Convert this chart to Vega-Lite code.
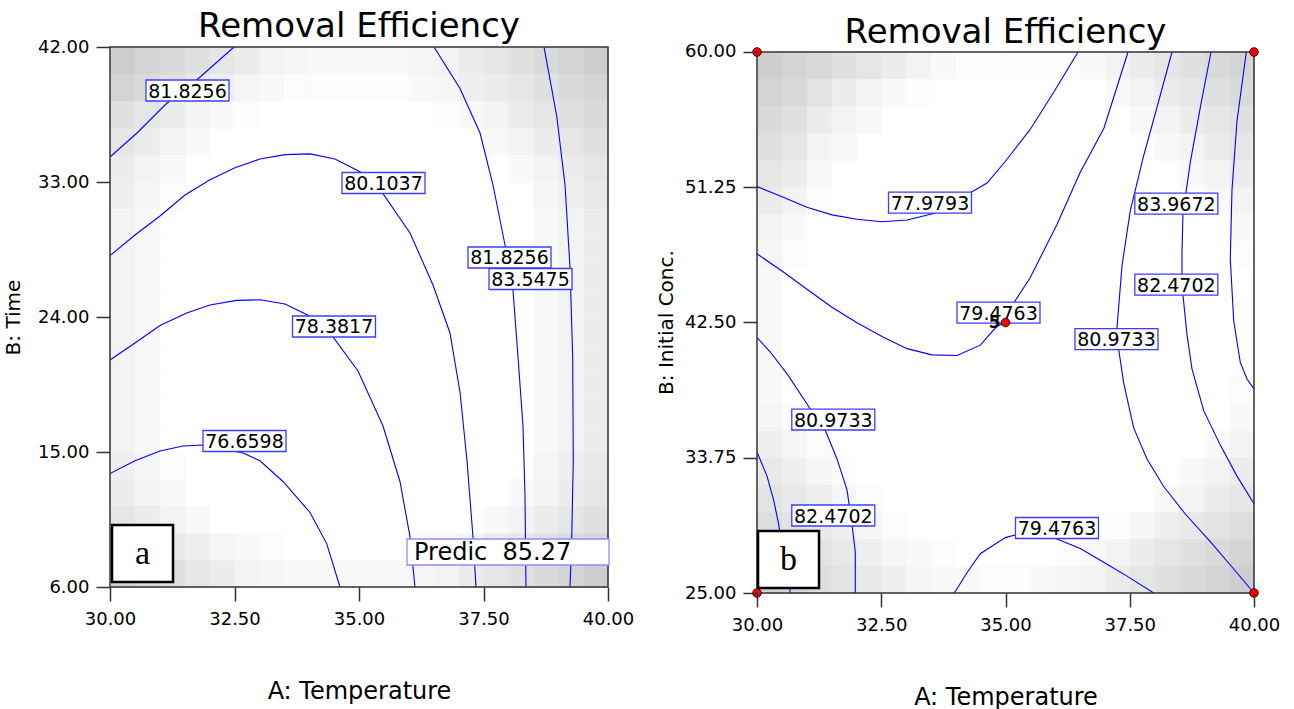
{
  "$schema": "https://vega.github.io/schema/vega-lite/v6.json",
  "background": "white",
  "padding": {"left": 3, "top": 10, "right": 0, "bottom": 0},
  "spacing": 22,
  "config": {
    "view": {"stroke": null},
    "font": "DejaVu Sans",
    "axis": {"labelFont": "DejaVu Sans", "labelFontSize": 18, "labelColor": "#000", "tickColor": "#333", "tickSize": 14, "tickWidth": 1.5, "domain": false, "grid": false, "titleFont": "DejaVu Sans", "titleFontWeight": "normal", "titleColor": "#000", "labelFlush": false, "labelOverlap": false},
    "title": {"font": "DejaVu Sans", "fontSize": 34, "fontWeight": "normal", "color": "#000"}
  },
  "datasets": {
    "heatA": [
      {"A":30.25,"B":41.1,"s":8},{"A":30.75,"B":41.1,"s":7},{"A":31.25,"B":41.1,"s":6},{"A":31.75,"B":41.1,"s":5},{"A":32.25,"B":41.1,"s":4},{"A":32.75,"B":41.1,"s":3},{"A":33.25,"B":41.1,"s":2},{"A":33.75,"B":41.1,"s":1.5},{"A":34.25,"B":41.1,"s":1},{"A":34.75,"B":41.1,"s":1},{"A":35.25,"B":41.1,"s":1},{"A":35.75,"B":41.1,"s":1},{"A":36.25,"B":41.1,"s":1.5},{"A":36.75,"B":41.1,"s":2},{"A":37.25,"B":41.1,"s":3},{"A":37.75,"B":41.1,"s":4},{"A":38.25,"B":41.1,"s":5},{"A":38.75,"B":41.1,"s":6},{"A":39.25,"B":41.1,"s":7},{"A":39.75,"B":41.1,"s":8},
      {"A":30.25,"B":39.3,"s":7},{"A":30.75,"B":39.3,"s":6},{"A":31.25,"B":39.3,"s":5},{"A":31.75,"B":39.3,"s":3.5},{"A":32.25,"B":39.3,"s":2.5},{"A":32.75,"B":39.3,"s":1.5},{"A":33.25,"B":39.3,"s":1},{"A":33.75,"B":39.3,"s":0.5},{"A":34.25,"B":39.3,"s":0.5},{"A":34.75,"B":39.3,"s":0.5},{"A":35.25,"B":39.3,"s":0.5},{"A":35.75,"B":39.3,"s":0.5},{"A":36.25,"B":39.3,"s":1},{"A":36.75,"B":39.3,"s":1.5},{"A":37.25,"B":39.3,"s":2.5},{"A":37.75,"B":39.3,"s":3},{"A":38.25,"B":39.3,"s":4},{"A":38.75,"B":39.3,"s":5},{"A":39.25,"B":39.3,"s":6},{"A":39.75,"B":39.3,"s":7},
      {"A":30.25,"B":37.5,"s":5},{"A":30.75,"B":37.5,"s":4},{"A":31.25,"B":37.5,"s":3},{"A":31.75,"B":37.5,"s":2},{"A":32.25,"B":37.5,"s":1},{"A":32.75,"B":37.5,"s":0.5},{"A":36.75,"B":37.5,"s":0.5},{"A":37.25,"B":37.5,"s":1},{"A":37.75,"B":37.5,"s":2},{"A":38.25,"B":37.5,"s":3},{"A":38.75,"B":37.5,"s":4},{"A":39.25,"B":37.5,"s":5},{"A":39.75,"B":37.5,"s":6},
      {"A":30.25,"B":35.7,"s":4},{"A":30.75,"B":35.7,"s":3},{"A":31.25,"B":35.7,"s":2},{"A":31.75,"B":35.7,"s":1},{"A":37.75,"B":35.7,"s":1},{"A":38.25,"B":35.7,"s":2},{"A":38.75,"B":35.7,"s":3},{"A":39.25,"B":35.7,"s":4},{"A":39.75,"B":35.7,"s":5},
      {"A":30.25,"B":33.9,"s":3},{"A":30.75,"B":33.9,"s":2},{"A":31.25,"B":33.9,"s":1},{"A":38.25,"B":33.9,"s":1},{"A":38.75,"B":33.9,"s":2},{"A":39.25,"B":33.9,"s":3},{"A":39.75,"B":33.9,"s":4},
      {"A":30.25,"B":32.1,"s":2.5},{"A":30.75,"B":32.1,"s":1.5},{"A":31.25,"B":32.1,"s":0.5},{"A":38.75,"B":32.1,"s":1.5},{"A":39.25,"B":32.1,"s":2.5},{"A":39.75,"B":32.1,"s":3.5},
      {"A":30.25,"B":30.3,"s":2},{"A":30.75,"B":30.3,"s":1},{"A":38.75,"B":30.3,"s":1},{"A":39.25,"B":30.3,"s":2},{"A":39.75,"B":30.3,"s":3},
      {"A":30.25,"B":28.5,"s":2},{"A":30.75,"B":28.5,"s":1},{"A":38.75,"B":28.5,"s":1},{"A":39.25,"B":28.5,"s":2},{"A":39.75,"B":28.5,"s":3},
      {"A":30.25,"B":26.7,"s":2},{"A":30.75,"B":26.7,"s":1},{"A":38.75,"B":26.7,"s":1},{"A":39.25,"B":26.7,"s":2},{"A":39.75,"B":26.7,"s":3},
      {"A":30.25,"B":24.9,"s":2},{"A":30.75,"B":24.9,"s":1},{"A":38.75,"B":24.9,"s":1},{"A":39.25,"B":24.9,"s":2},{"A":39.75,"B":24.9,"s":3},
      {"A":30.25,"B":23.1,"s":2},{"A":30.75,"B":23.1,"s":1},{"A":38.75,"B":23.1,"s":1},{"A":39.25,"B":23.1,"s":2},{"A":39.75,"B":23.1,"s":3},
      {"A":30.25,"B":21.3,"s":2},{"A":30.75,"B":21.3,"s":1},{"A":38.75,"B":21.3,"s":1},{"A":39.25,"B":21.3,"s":2},{"A":39.75,"B":21.3,"s":3},
      {"A":30.25,"B":19.5,"s":2},{"A":30.75,"B":19.5,"s":1},{"A":38.75,"B":19.5,"s":1},{"A":39.25,"B":19.5,"s":2},{"A":39.75,"B":19.5,"s":3},
      {"A":30.25,"B":17.7,"s":2},{"A":30.75,"B":17.7,"s":1},{"A":38.75,"B":17.7,"s":1},{"A":39.25,"B":17.7,"s":2},{"A":39.75,"B":17.7,"s":3},
      {"A":30.25,"B":15.9,"s":2},{"A":30.75,"B":15.9,"s":1},{"A":38.75,"B":15.9,"s":1},{"A":39.25,"B":15.9,"s":2},{"A":39.75,"B":15.9,"s":3},
      {"A":30.25,"B":14.1,"s":2.5},{"A":30.75,"B":14.1,"s":1.5},{"A":31.25,"B":14.1,"s":0.5},{"A":38.75,"B":14.1,"s":1.5},{"A":39.25,"B":14.1,"s":2.5},{"A":39.75,"B":14.1,"s":3.5},
      {"A":30.25,"B":12.3,"s":3},{"A":30.75,"B":12.3,"s":2},{"A":31.25,"B":12.3,"s":1},{"A":38.25,"B":12.3,"s":1},{"A":38.75,"B":12.3,"s":2},{"A":39.25,"B":12.3,"s":3},{"A":39.75,"B":12.3,"s":4},
      {"A":30.25,"B":10.5,"s":4},{"A":30.75,"B":10.5,"s":3},{"A":31.25,"B":10.5,"s":2},{"A":31.75,"B":10.5,"s":1},{"A":37.75,"B":10.5,"s":1},{"A":38.25,"B":10.5,"s":2},{"A":38.75,"B":10.5,"s":3},{"A":39.25,"B":10.5,"s":4},{"A":39.75,"B":10.5,"s":5},
      {"A":30.25,"B":8.7,"s":5.5},{"A":30.75,"B":8.7,"s":4.5},{"A":31.25,"B":8.7,"s":3.5},{"A":31.75,"B":8.7,"s":2.5},{"A":32.25,"B":8.7,"s":1.5},{"A":32.75,"B":8.7,"s":1},{"A":33.25,"B":8.7,"s":0.5},{"A":36.25,"B":8.7,"s":0.5},{"A":36.75,"B":8.7,"s":1},{"A":37.25,"B":8.7,"s":2},{"A":37.75,"B":8.7,"s":3},{"A":38.25,"B":8.7,"s":4},{"A":38.75,"B":8.7,"s":5},{"A":39.25,"B":8.7,"s":6},{"A":39.75,"B":8.7,"s":6.5},
      {"A":30.25,"B":6.9,"s":7},{"A":30.75,"B":6.9,"s":6},{"A":31.25,"B":6.9,"s":5},{"A":31.75,"B":6.9,"s":4},{"A":32.25,"B":6.9,"s":3},{"A":32.75,"B":6.9,"s":2},{"A":33.25,"B":6.9,"s":1.5},{"A":33.75,"B":6.9,"s":1},{"A":34.25,"B":6.9,"s":1},{"A":34.75,"B":6.9,"s":1},{"A":35.25,"B":6.9,"s":1},{"A":35.75,"B":6.9,"s":1},{"A":36.25,"B":6.9,"s":1.5},{"A":36.75,"B":6.9,"s":2},{"A":37.25,"B":6.9,"s":3},{"A":37.75,"B":6.9,"s":4},{"A":38.25,"B":6.9,"s":5},{"A":38.75,"B":6.9,"s":6},{"A":39.25,"B":6.9,"s":7},{"A":39.75,"B":6.9,"s":8}
    ],
    "heatB": [
      {"A":30.25,"B":59.125,"s":8},{"A":30.75,"B":59.125,"s":7},{"A":31.25,"B":59.125,"s":6},{"A":31.75,"B":59.125,"s":5},{"A":32.25,"B":59.125,"s":4},{"A":32.75,"B":59.125,"s":3},{"A":33.25,"B":59.125,"s":2},{"A":33.75,"B":59.125,"s":1},{"A":34.25,"B":59.125,"s":0.5},{"A":34.75,"B":59.125,"s":0.5},{"A":35.25,"B":59.125,"s":0.5},{"A":35.75,"B":59.125,"s":0.5},{"A":36.25,"B":59.125,"s":0.5},{"A":36.75,"B":59.125,"s":1},{"A":37.25,"B":59.125,"s":2},{"A":37.75,"B":59.125,"s":3},{"A":38.25,"B":59.125,"s":4},{"A":38.75,"B":59.125,"s":5},{"A":39.25,"B":59.125,"s":6},{"A":39.75,"B":59.125,"s":7},
      {"A":30.25,"B":57.375,"s":7},{"A":30.75,"B":57.375,"s":6},{"A":31.25,"B":57.375,"s":4.5},{"A":31.75,"B":57.375,"s":3},{"A":32.25,"B":57.375,"s":2},{"A":32.75,"B":57.375,"s":1},{"A":33.25,"B":57.375,"s":0.5},{"A":37.25,"B":57.375,"s":1},{"A":37.75,"B":57.375,"s":2},{"A":38.25,"B":57.375,"s":3},{"A":38.75,"B":57.375,"s":4},{"A":39.25,"B":57.375,"s":5},{"A":39.75,"B":57.375,"s":6},
      {"A":30.25,"B":55.625,"s":6},{"A":30.75,"B":55.625,"s":5},{"A":31.25,"B":55.625,"s":3},{"A":31.75,"B":55.625,"s":2},{"A":32.25,"B":55.625,"s":1},{"A":37.75,"B":55.625,"s":1},{"A":38.25,"B":55.625,"s":2},{"A":38.75,"B":55.625,"s":3},{"A":39.25,"B":55.625,"s":4},{"A":39.75,"B":55.625,"s":5},
      {"A":30.25,"B":53.875,"s":5},{"A":30.75,"B":53.875,"s":4},{"A":31.25,"B":53.875,"s":2},{"A":31.75,"B":53.875,"s":1},{"A":38.25,"B":53.875,"s":1},{"A":38.75,"B":53.875,"s":2},{"A":39.25,"B":53.875,"s":3},{"A":39.75,"B":53.875,"s":4},
      {"A":30.25,"B":52.125,"s":4},{"A":30.75,"B":52.125,"s":3},{"A":31.25,"B":52.125,"s":1},{"A":38.75,"B":52.125,"s":1},{"A":39.25,"B":52.125,"s":2},{"A":39.75,"B":52.125,"s":3},
      {"A":30.25,"B":50.375,"s":3},{"A":30.75,"B":50.375,"s":2},{"A":31.25,"B":50.375,"s":0.5},{"A":39.25,"B":50.375,"s":1},{"A":39.75,"B":50.375,"s":2},
      {"A":30.25,"B":48.625,"s":2},{"A":30.75,"B":48.625,"s":1},{"A":39.75,"B":48.625,"s":1},
      {"A":30.25,"B":46.875,"s":1.5},{"A":30.75,"B":46.875,"s":0.5},{"A":39.75,"B":46.875,"s":0.5},
      {"A":30.25,"B":45.125,"s":1},{"A":30.25,"B":43.375,"s":1},{"A":30.25,"B":41.625,"s":1},{"A":30.25,"B":39.875,"s":1},
      {"A":30.25,"B":38.125,"s":1},{"A":39.75,"B":38.125,"s":0.5},
      {"A":30.25,"B":36.375,"s":1.5},{"A":30.75,"B":36.375,"s":0.5},{"A":39.75,"B":36.375,"s":1},
      {"A":30.25,"B":34.625,"s":2.5},{"A":30.75,"B":34.625,"s":1.5},{"A":31.25,"B":34.625,"s":0.5},{"A":39.25,"B":34.625,"s":1},{"A":39.75,"B":34.625,"s":2},
      {"A":30.25,"B":32.875,"s":3.5},{"A":30.75,"B":32.875,"s":2.5},{"A":31.25,"B":32.875,"s":1.5},{"A":31.75,"B":32.875,"s":0.5},{"A":38.75,"B":32.875,"s":1},{"A":39.25,"B":32.875,"s":2},{"A":39.75,"B":32.875,"s":3},
      {"A":30.25,"B":31.125,"s":4.5},{"A":30.75,"B":31.125,"s":3.5},{"A":31.25,"B":31.125,"s":2.5},{"A":31.75,"B":31.125,"s":1.5},{"A":32.25,"B":31.125,"s":0.5},{"A":38.25,"B":31.125,"s":1},{"A":38.75,"B":31.125,"s":2},{"A":39.25,"B":31.125,"s":3},{"A":39.75,"B":31.125,"s":4},
      {"A":30.25,"B":29.375,"s":5.5},{"A":30.75,"B":29.375,"s":4.5},{"A":31.25,"B":29.375,"s":3.5},{"A":31.75,"B":29.375,"s":2.5},{"A":32.25,"B":29.375,"s":1.5},{"A":32.75,"B":29.375,"s":0.5},{"A":37.25,"B":29.375,"s":0.5},{"A":37.75,"B":29.375,"s":1.5},{"A":38.25,"B":29.375,"s":2.5},{"A":38.75,"B":29.375,"s":3.5},{"A":39.25,"B":29.375,"s":4.5},{"A":39.75,"B":29.375,"s":5.5},
      {"A":30.25,"B":27.625,"s":6.5},{"A":30.75,"B":27.625,"s":5.5},{"A":31.25,"B":27.625,"s":4.5},{"A":31.75,"B":27.625,"s":3.5},{"A":32.25,"B":27.625,"s":2.5},{"A":32.75,"B":27.625,"s":1.5},{"A":33.25,"B":27.625,"s":1},{"A":33.75,"B":27.625,"s":0.5},{"A":36.25,"B":27.625,"s":0.5},{"A":36.75,"B":27.625,"s":1},{"A":37.25,"B":27.625,"s":2},{"A":37.75,"B":27.625,"s":3},{"A":38.25,"B":27.625,"s":4},{"A":38.75,"B":27.625,"s":5},{"A":39.25,"B":27.625,"s":6},{"A":39.75,"B":27.625,"s":7},
      {"A":30.25,"B":25.875,"s":7.5},{"A":30.75,"B":25.875,"s":6.5},{"A":31.25,"B":25.875,"s":5.5},{"A":31.75,"B":25.875,"s":4.5},{"A":32.25,"B":25.875,"s":3.5},{"A":32.75,"B":25.875,"s":2.5},{"A":33.25,"B":25.875,"s":1.5},{"A":33.75,"B":25.875,"s":1},{"A":34.25,"B":25.875,"s":1},{"A":34.75,"B":25.875,"s":0.5},{"A":35.25,"B":25.875,"s":0.5},{"A":35.75,"B":25.875,"s":1},{"A":36.25,"B":25.875,"s":1.5},{"A":36.75,"B":25.875,"s":2},{"A":37.25,"B":25.875,"s":3},{"A":37.75,"B":25.875,"s":4},{"A":38.25,"B":25.875,"s":5},{"A":38.75,"B":25.875,"s":6},{"A":39.25,"B":25.875,"s":7},{"A":39.75,"B":25.875,"s":8}
    ],
    "linesA": [
      {"id":1,"k":1,"A":30,"B":34.667},{"id":1,"k":2,"A":30.542,"B":36.267},{"id":1,"k":3,"A":31.124,"B":38.2},{"id":1,"k":4,"A":31.787,"B":39.933},{"id":1,"k":5,"A":32.49,"B":42},
      {"id":2,"k":1,"A":30,"B":28.093},{"id":2,"k":2,"A":30.502,"B":29.467},{"id":2,"k":3,"A":31.004,"B":30.733},{"id":2,"k":4,"A":31.506,"B":32.133},{"id":2,"k":5,"A":32.008,"B":33.147},{"id":2,"k":6,"A":32.51,"B":33.953},{"id":2,"k":7,"A":33.012,"B":34.533},{"id":2,"k":8,"A":33.514,"B":34.827},{"id":2,"k":9,"A":34.016,"B":34.873},{"id":2,"k":10,"A":34.518,"B":34.533},{"id":2,"k":11,"A":35.02,"B":33.68},{"id":2,"k":12,"A":35.482,"B":32.227},{"id":2,"k":13,"A":36.024,"B":29.6},{"id":2,"k":14,"A":36.486,"B":26.133},{"id":2,"k":15,"A":36.827,"B":22.933},{"id":2,"k":16,"A":37.028,"B":19.0},{"id":2,"k":17,"A":37.169,"B":14.4},{"id":2,"k":18,"A":37.289,"B":9.333},{"id":2,"k":19,"A":37.349,"B":6},
      {"id":3,"k":1,"A":30,"B":21.133},{"id":3,"k":2,"A":30.502,"B":22.267},{"id":3,"k":3,"A":31.004,"B":23.427},{"id":3,"k":4,"A":31.54,"B":24.267},{"id":3,"k":5,"A":32.008,"B":24.8},{"id":3,"k":6,"A":32.544,"B":25.107},{"id":3,"k":7,"A":33.012,"B":25.147},{"id":3,"k":8,"A":33.514,"B":24.873},{"id":3,"k":9,"A":33.976,"B":24.113},{"id":3,"k":10,"A":34.478,"B":22.667},{"id":3,"k":11,"A":34.98,"B":20.4},{"id":3,"k":12,"A":35.482,"B":16.733},{"id":3,"k":13,"A":35.823,"B":13.033},{"id":3,"k":14,"A":36.024,"B":9.36},{"id":3,"k":15,"A":36.124,"B":6},
      {"id":4,"k":1,"A":30,"B":13.56},{"id":4,"k":2,"A":30.502,"B":14.413},{"id":4,"k":3,"A":31.004,"B":15.067},{"id":4,"k":4,"A":31.466,"B":15.4},{"id":4,"k":5,"A":31.867,"B":15.467},{"id":4,"k":6,"A":32.671,"B":14.933},{"id":4,"k":7,"A":33.012,"B":14.413},{"id":4,"k":8,"A":33.474,"B":13.033},{"id":4,"k":9,"A":34.016,"B":10.967},{"id":4,"k":10,"A":34.351,"B":8.893},{"id":4,"k":11,"A":34.618,"B":6},
      {"id":5,"k":1,"A":36.506,"B":42},{"id":5,"k":2,"A":37.028,"B":39.24},{"id":5,"k":3,"A":37.43,"B":36.267},{"id":5,"k":4,"A":37.691,"B":32.8},{"id":5,"k":5,"A":37.932,"B":28.8},{"id":5,"k":6,"A":38.092,"B":25.8},{"id":5,"k":7,"A":38.193,"B":21.333},{"id":5,"k":8,"A":38.293,"B":16.733},{"id":5,"k":9,"A":38.333,"B":12.133},{"id":5,"k":10,"A":38.353,"B":6},
      {"id":6,"k":1,"A":38.715,"B":42},{"id":6,"k":2,"A":38.97,"B":37.4},{"id":6,"k":3,"A":39.137,"B":32.8},{"id":6,"k":4,"A":39.237,"B":27.287},{"id":6,"k":5,"A":39.291,"B":21.333},{"id":6,"k":6,"A":39.303,"B":14.413},{"id":6,"k":7,"A":39.271,"B":9.133},{"id":6,"k":8,"A":39.237,"B":6}
    ],
    "linesB": [
      {"id":1,"k":1,"A":30,"B":51.294},{"id":1,"k":2,"A":30.503,"B":50.628},{"id":1,"k":3,"A":31.006,"B":49.955},{"id":1,"k":4,"A":31.509,"B":49.463},{"id":1,"k":5,"A":32.012,"B":49.178},{"id":1,"k":6,"A":32.515,"B":49.017},{"id":1,"k":7,"A":33.018,"B":49.133},{"id":1,"k":8,"A":33.555,"B":49.554},{"id":1,"k":9,"A":34.326,"B":50.958},{"id":1,"k":10,"A":34.628,"B":51.52},{"id":1,"k":11,"A":34.99,"B":52.898},{"id":1,"k":12,"A":35.493,"B":54.975},{"id":1,"k":13,"A":35.976,"B":57.426},{"id":1,"k":14,"A":36.459,"B":60},
      {"id":2,"k":1,"A":30,"B":46.947},{"id":2,"k":2,"A":30.503,"B":45.828},{"id":2,"k":3,"A":31.006,"B":44.651},{"id":2,"k":4,"A":31.509,"B":43.486},{"id":2,"k":5,"A":32.012,"B":42.484},{"id":2,"k":6,"A":32.515,"B":41.591},{"id":2,"k":7,"A":33.018,"B":40.809},{"id":2,"k":8,"A":33.521,"B":40.408},{"id":2,"k":9,"A":34.024,"B":40.369},{"id":2,"k":10,"A":34.493,"B":41.035},{"id":2,"k":11,"A":34.829,"B":42.27},{"id":2,"k":12,"A":34.976,"B":42.439},{"id":2,"k":13,"A":35.191,"B":43.888},{"id":2,"k":14,"A":35.493,"B":45.382},{"id":2,"k":15,"A":36.036,"B":48.842},{"id":2,"k":16,"A":36.499,"B":52.186},{"id":2,"k":17,"A":36.982,"B":55.084},{"id":2,"k":18,"A":37.465,"B":60},
      {"id":3,"k":1,"A":38.35,"B":60},{"id":3,"k":2,"A":38.048,"B":56.423},{"id":3,"k":3,"A":37.781,"B":53.305},{"id":3,"k":4,"A":37.511,"B":49.735},{"id":3,"k":5,"A":37.344,"B":46.164},{"id":3,"k":6,"A":37.243,"B":42.148},{"id":3,"k":7,"A":37.277,"B":40.77},{"id":3,"k":8,"A":37.378,"B":38.584},{"id":3,"k":9,"A":37.579,"B":35.679},{"id":3,"k":10,"A":37.847,"B":33.668},{"id":3,"k":11,"A":38.183,"B":31.889},{"id":3,"k":12,"A":38.618,"B":30.11},{"id":3,"k":13,"A":39.121,"B":28.318},{"id":3,"k":14,"A":39.592,"B":26.552},{"id":3,"k":15,"A":40,"B":25},
      {"id":4,"k":1,"A":39.135,"B":60},{"id":4,"k":2,"A":38.92,"B":56.423},{"id":4,"k":3,"A":38.718,"B":52.859},{"id":4,"k":4,"A":38.618,"B":50.627},{"id":4,"k":5,"A":38.571,"B":49.515},{"id":4,"k":6,"A":38.551,"B":47.057},{"id":4,"k":7,"A":38.551,"B":45.608},{"id":4,"k":8,"A":38.571,"B":44.276},{"id":4,"k":9,"A":38.652,"B":41.701},{"id":4,"k":10,"A":38.753,"B":39.476},{"id":4,"k":11,"A":38.988,"B":36.798},{"id":4,"k":12,"A":39.322,"B":34.567},{"id":4,"k":13,"A":39.658,"B":32.561},{"id":4,"k":14,"A":40,"B":30.776},
      {"id":5,"k":1,"A":39.845,"B":60},{"id":5,"k":2,"A":39.658,"B":55.531},{"id":5,"k":3,"A":39.557,"B":51.074},{"id":5,"k":4,"A":39.523,"B":46.611},{"id":5,"k":5,"A":39.592,"B":42.594},{"id":5,"k":6,"A":39.724,"B":39.922},{"id":5,"k":7,"A":39.859,"B":38.842},{"id":5,"k":8,"A":40,"B":38.195},
      {"id":6,"k":1,"A":30,"B":41.527},{"id":6,"k":2,"A":30.268,"B":40.589},{"id":6,"k":3,"A":30.638,"B":39.03},{"id":6,"k":4,"A":31.072,"B":36.908},{"id":6,"k":5,"A":31.374,"B":35.524},{"id":6,"k":6,"A":31.61,"B":33.674},{"id":6,"k":7,"A":31.811,"B":31.669},{"id":6,"k":8,"A":31.911,"B":29.437},{"id":6,"k":9,"A":31.978,"B":27.652},{"id":6,"k":10,"A":31.978,"B":25},
      {"id":7,"k":1,"A":30,"B":34.121},{"id":7,"k":2,"A":30.201,"B":32.562},{"id":7,"k":3,"A":30.336,"B":30.996},{"id":7,"k":4,"A":30.437,"B":29.437},{"id":7,"k":5,"A":30.483,"B":28.318},{"id":7,"k":6,"A":30.584,"B":26.746},{"id":7,"k":7,"A":30.67,"B":25},
      {"id":8,"k":1,"A":33.97,"B":25},{"id":8,"k":2,"A":34.225,"B":26.313},{"id":8,"k":3,"A":34.493,"B":27.542},{"id":8,"k":4,"A":34.996,"B":28.583},{"id":8,"k":5,"A":35.493,"B":29.01},{"id":8,"k":6,"A":36.036,"B":28.499},{"id":8,"k":7,"A":36.505,"B":27.872},{"id":8,"k":8,"A":36.976,"B":26.986},{"id":8,"k":9,"A":37.445,"B":26.093},{"id":8,"k":10,"A":37.982,"B":25}
    ],
    "labA": [
      {"A":31.556,"B":39.1,"t":"81.8256"},{"A":35.492,"B":32.933,"t":"80.1037"},{"A":38.022,"B":27.967,"t":"81.8256"},{"A":38.444,"B":26.533,"t":"83.5475"},{"A":34.498,"B":23.367,"t":"78.3817"},{"A":32.701,"B":15.733,"t":"76.6598"}
    ],
    "labB": [
      {"A":33.481,"B":50.259,"t":"77.9793"},{"A":34.859,"B":43.144,"t":"79.4763"},{"A":38.437,"B":50.194,"t":"83.9672"},{"A":38.437,"B":44.955,"t":"82.4702"},{"A":37.233,"B":41.43,"t":"80.9733"},{"A":31.535,"B":36.223,"t":"80.9733"},{"A":31.535,"B":30.013,"t":"82.4702"},{"A":36.036,"B":29.204,"t":"79.4763"}
    ],
    "ptsB": [
      {"A":30,"B":60},{"A":40,"B":60},{"A":30,"B":25},{"A":40,"B":25},{"A":35,"B":42.5,"t":"5"}
    ]
  },
  "hconcat": [
    {
      "width": 498,
      "height": 540,
      "title": {"text": "Removal Efficiency", "baseline": "alphabetic", "offset": -33, "frame": "group", "anchor": "middle"},
      "layer": [
        {
          "data": {"name": "heatA"},
          "mark": {"type": "rect", "strokeWidth": 0.6},
          "encoding": {
            "x": {"field": "A", "type": "quantitative", "bin": {"step": 0.5, "extent": [30, 40], "nice": false}, "scale": {"domain": [30, 40], "nice": false, "zero": false},
                  "axis": {"values": [30, 32.5, 35, 37.5, 40], "format": ".2f", "labelFontSize": 18, "labelPadding": 9, "title": "A: Temperature", "titleFontSize": 24, "titleBaseline": "alphabetic", "titleY": 111}},
            "y": {"field": "B", "type": "quantitative", "bin": {"step": 1.8, "extent": [6, 42], "nice": false}, "scale": {"domain": [6, 42], "nice": false, "zero": false},
                  "axis": {"values": [6, 15, 24, 33, 42], "format": ".2f", "labelFontSize": 18, "labelPadding": 7, "title": "B: Time", "titleFontSize": 20, "titleX": -87}},
            "color": {"field": "s", "type": "quantitative", "scale": {"domain": [0, 10], "range": ["#ffffff", "#c2c2c2"]}, "legend": null},
            "stroke": {"field": "s", "type": "quantitative", "scale": {"domain": [0, 10], "range": ["#ffffff", "#c2c2c2"]}, "legend": null}
          }
        },
        {
          "data": {"name": "linesA"},
          "mark": {"type": "line", "color": "#0000ff", "strokeWidth": 1.1, "clip": true},
          "encoding": {
            "x": {"field": "A", "type": "quantitative", "scale": {"domain": [30, 40], "nice": false, "zero": false}},
            "y": {"field": "B", "type": "quantitative", "scale": {"domain": [6, 42], "nice": false, "zero": false}},
            "detail": {"field": "id"},
            "order": {"field": "k", "type": "quantitative"}
          }
        },
        {
          "data": {"values": [{}]},
          "mark": {"type": "rect", "filled": false, "stroke": "#333", "strokeWidth": 1.5},
          "encoding": {"x": {"datum": 30}, "x2": {"datum": 40}, "y": {"datum": 6}, "y2": {"datum": 42}}
        },
        {
          "data": {"name": "labA"},
          "mark": {"type": "point", "shape": "M-1,-0.253H1V0.253H-1Z", "size": 6889, "filled": true, "fill": "#ffffff", "stroke": "#3c3cff", "strokeWidth": 1.3, "opacity": 1},
          "encoding": {"x": {"field": "A", "type": "quantitative"}, "y": {"field": "B", "type": "quantitative"}}
        },
        {
          "data": {"name": "labA"},
          "mark": {"type": "text", "font": "DejaVu Sans", "fontSize": 19, "color": "#000", "align": "center", "baseline": "middle", "dy": 1},
          "encoding": {"x": {"field": "A", "type": "quantitative"}, "y": {"field": "B", "type": "quantitative"}, "text": {"field": "t"}}
        },
        {
          "data": {"values": [{"A": 37.992, "B": 8.333, "t": "Predic\u00a0\u00a085.27"}]},
          "layer": [
            {"mark": {"type": "point", "shape": "M-1,-0.1287H1V0.1287H-1Z", "size": 40804, "filled": true, "fill": "#ffffff", "stroke": "#8c8cff", "strokeWidth": 1.3, "opacity": 1},
             "encoding": {"x": {"field": "A", "type": "quantitative"}, "y": {"field": "B", "type": "quantitative"}}},
            {"mark": {"type": "text", "font": "DejaVu Sans", "fontSize": 24, "color": "#000", "align": "left", "baseline": "middle", "dx": -94, "dy": 1},
             "encoding": {"x": {"field": "A", "type": "quantitative"}, "y": {"field": "B", "type": "quantitative"}, "text": {"field": "t"}}}
          ]
        },
        {
          "data": {"values": [{"A": 30.653, "B": 8.233, "t": "a"}]},
          "layer": [
            {"mark": {"type": "point", "shape": "M-1,-0.9344H1V0.9344H-1Z", "size": 3721, "filled": true, "fill": "#ffffff", "stroke": "#000", "strokeWidth": 2.5, "opacity": 1},
             "encoding": {"x": {"field": "A", "type": "quantitative"}, "y": {"field": "B", "type": "quantitative"}}},
            {"mark": {"type": "text", "font": "Liberation Serif", "fontSize": 34, "color": "#000", "align": "center", "baseline": "middle"},
             "encoding": {"x": {"field": "A", "type": "quantitative"}, "y": {"field": "B", "type": "quantitative"}, "text": {"field": "t"}}}
          ]
        }
      ]
    },
    {
      "width": 497,
      "height": 546,
      "title": {"text": "Removal Efficiency", "baseline": "alphabetic", "offset": -34, "frame": "group", "anchor": "middle"},
      "layer": [
        {
          "data": {"name": "heatB"},
          "mark": {"type": "rect", "strokeWidth": 0.6},
          "encoding": {
            "x": {"field": "A", "type": "quantitative", "bin": {"step": 0.5, "extent": [30, 40], "nice": false}, "scale": {"domain": [30, 40], "nice": false, "zero": false},
                  "axis": {"values": [30, 32.5, 35, 37.5, 40], "format": ".2f", "labelFontSize": 18, "labelPadding": 9, "title": "A: Temperature", "titleFontSize": 24, "titleBaseline": "alphabetic", "titleY": 111}},
            "y": {"field": "B", "type": "quantitative", "bin": {"step": 1.75, "extent": [25, 60], "nice": false}, "scale": {"domain": [25, 60.3234], "nice": false, "zero": false},
                  "axis": {"values": [25, 33.75, 42.5, 51.25, 60], "format": ".2f", "labelFontSize": 18, "labelPadding": 7, "title": "B: Initial Conc.", "titleFontSize": 20, "titleX": -81, "titleY": 275}},
            "color": {"field": "s", "type": "quantitative", "scale": {"domain": [0, 10], "range": ["#ffffff", "#c2c2c2"]}, "legend": null},
            "stroke": {"field": "s", "type": "quantitative", "scale": {"domain": [0, 10], "range": ["#ffffff", "#c2c2c2"]}, "legend": null}
          }
        },
        {
          "data": {"name": "linesB"},
          "mark": {"type": "line", "color": "#0000ff", "strokeWidth": 1.1, "clip": true},
          "encoding": {
            "x": {"field": "A", "type": "quantitative", "scale": {"domain": [30, 40], "nice": false, "zero": false}},
            "y": {"field": "B", "type": "quantitative", "scale": {"domain": [25, 60.3234], "nice": false, "zero": false}},
            "detail": {"field": "id"},
            "order": {"field": "k", "type": "quantitative"}
          }
        },
        {
          "data": {"values": [{}]},
          "mark": {"type": "rect", "filled": false, "stroke": "#333", "strokeWidth": 1.5},
          "encoding": {"x": {"datum": 30}, "x2": {"datum": 40}, "y": {"datum": 25}, "y2": {"datum": 60}}
        },
        {
          "data": {"name": "labB"},
          "mark": {"type": "point", "shape": "M-1,-0.253H1V0.253H-1Z", "size": 6889, "filled": true, "fill": "#ffffff", "stroke": "#3c3cff", "strokeWidth": 1.3, "opacity": 1},
          "encoding": {"x": {"field": "A", "type": "quantitative"}, "y": {"field": "B", "type": "quantitative"}}
        },
        {
          "data": {"name": "labB"},
          "mark": {"type": "text", "font": "DejaVu Sans", "fontSize": 19, "color": "#000", "align": "center", "baseline": "middle", "dy": 1},
          "encoding": {"x": {"field": "A", "type": "quantitative"}, "y": {"field": "B", "type": "quantitative"}, "text": {"field": "t"}}
        },
        {
          "data": {"values": [{"A": 30.634, "B": 27.167, "t": "b"}]},
          "layer": [
            {"mark": {"type": "point", "shape": "M-1,-0.9344H1V0.9344H-1Z", "size": 3721, "filled": true, "fill": "#ffffff", "stroke": "#000", "strokeWidth": 2.5, "opacity": 1},
             "encoding": {"x": {"field": "A", "type": "quantitative"}, "y": {"field": "B", "type": "quantitative"}}},
            {"mark": {"type": "text", "font": "Liberation Serif", "fontSize": 34, "color": "#000", "align": "center", "baseline": "middle"},
             "encoding": {"x": {"field": "A", "type": "quantitative"}, "y": {"field": "B", "type": "quantitative"}, "text": {"field": "t"}}}
          ]
        },
        {
          "data": {"name": "ptsB"},
          "layer": [
            {"mark": {"type": "point", "filled": true, "fill": "#ff0000", "stroke": "#000", "strokeWidth": 0.8, "size": 75, "opacity": 1},
             "encoding": {"x": {"field": "A", "type": "quantitative"}, "y": {"field": "B", "type": "quantitative"}}},
            {"transform": [{"filter": "isValid(datum.t)"}],
             "mark": {"type": "text", "font": "DejaVu Sans", "fontSize": 17, "fontWeight": "bold", "color": "#000", "align": "right", "baseline": "middle", "dx": -5, "dy": 1},
             "encoding": {"x": {"field": "A", "type": "quantitative"}, "y": {"field": "B", "type": "quantitative"}, "text": {"field": "t"}}}
          ]
        }
      ]
    }
  ]
}
